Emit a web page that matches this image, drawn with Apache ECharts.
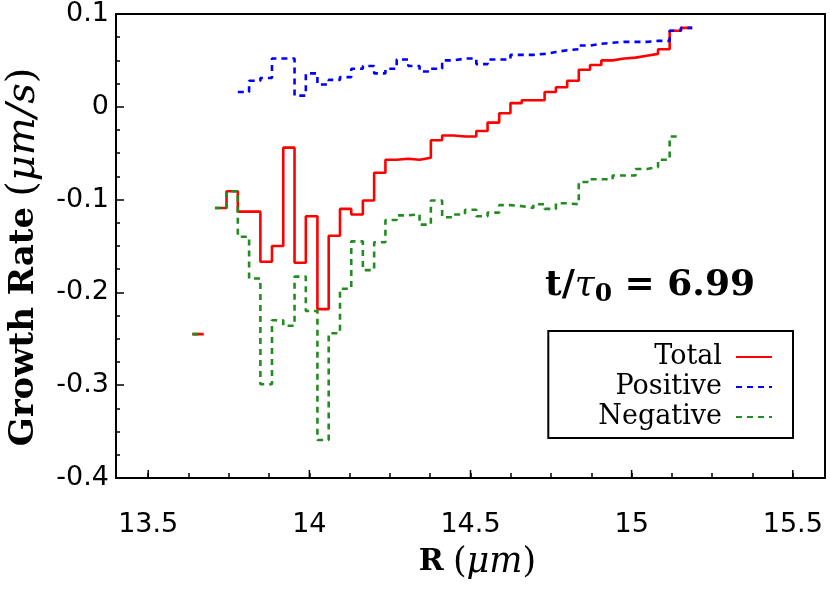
<!DOCTYPE html>
<html>
<head>
<meta charset="utf-8">
<script src="https://cdn.jsdelivr.net/npm/echarts@6.0.0/dist/echarts.min.js"></script>
<style>
  html, body { margin: 0; padding: 0; background: #fff; }
  #chart { width: 830px; height: 594px; }
</style>
</head>
<body>
<div id="chart"></div>
<script>
// bin edges along R (um), 44 bins
const rEdges = [
  13.637, 13.672, 13.707, 13.743, 13.778, 13.813, 13.848, 13.884, 13.919, 13.954,
  13.989, 14.025, 14.060, 14.095, 14.130, 14.166, 14.201, 14.236, 14.271, 14.307,
  14.342, 14.377, 14.412, 14.448, 14.483, 14.518, 14.553, 14.589, 14.624, 14.659,
  14.695, 14.730, 14.765, 14.800, 14.836, 14.871, 14.906, 14.941, 14.977, 15.012,
  15.047, 15.082, 15.118, 15.153, 15.188
];

// growth rate per bin (um/s), null = no data
const totalRate = [
  -0.245, null, -0.109, -0.091, -0.113, -0.113, -0.167, -0.150, -0.044, -0.168,
  -0.118, -0.218, -0.139, -0.110, -0.116, -0.101, -0.071, -0.057, -0.056, -0.057,
  -0.055, -0.036, -0.031, -0.032, -0.032, -0.026, -0.017, -0.007, 0.004, 0.007,
  0.007, 0.016, 0.021, 0.028, 0.040, 0.045, 0.050, 0.052, 0.053, 0.055,
  0.057, 0.062, 0.082, 0.085
];

const positiveRate = [
  null, null, null, null, 0.016, 0.028, 0.031, 0.052, 0.052, 0.012,
  0.036, 0.024, 0.029, 0.032, 0.041, 0.044, 0.036, 0.041, 0.051, 0.044,
  0.038, 0.041, 0.050, 0.052, 0.052, 0.046, 0.051, 0.051, 0.056, 0.056,
  0.057, 0.059, 0.061, 0.062, 0.066, 0.068, 0.069, 0.070, 0.070, 0.070,
  0.071, 0.071, 0.082, 0.085
];

const negativeRate = [
  -0.245, null, -0.109, -0.091, -0.140, -0.185, -0.299, -0.230, -0.236, -0.183,
  -0.220, -0.359, -0.244, -0.196, -0.145, -0.176, -0.146, -0.122, -0.117, -0.116,
  -0.127, -0.101, -0.119, -0.116, -0.111, -0.118, -0.114, -0.106, -0.107, -0.109,
  -0.105, -0.110, -0.104, -0.105, -0.081, -0.078, -0.078, -0.074, -0.074, -0.067,
  -0.065, -0.057, -0.032, null
];

const xTicks = [13.5, 14, 14.5, 15, 15.5];
const xMinorTicks = [13.625, 13.75, 13.875, 14.125, 14.25, 14.375, 14.625, 14.75, 14.875, 15.125, 15.25, 15.375];
const yMin = -0.4;
const seriesNames = ['Total', 'Positive', 'Negative'];

// turn per-bin values into a histogram-style step path
function stepPath(values) {
  const pts = [];
  values.forEach((v, i) => {
    if (v === null) {
      pts.push([rEdges[i], null]);
    } else {
      pts.push([rEdges[i], v]);
      pts.push([rEdges[i + 1], v]);
    }
  });
  return pts;
}

const chart = echarts.init(document.getElementById('chart'));

const serif = 'DejaVu Serif';
const sans = 'DejaVu Sans';

const labelText = {
  type: 'text',
  left: 545,
  top: 268,
  z: 50,
  style: {
    text: '{a|t/}{g|τ}{s|0}{a| = 6.99}',
    rich: {
      a: { fontFamily: serif, fontWeight: 'bold', fontSize: 36, lineHeight: 36, padding: [0, 0, 3, 0], verticalAlign: 'bottom', fill: '#000' },
      g: { fontFamily: serif, fontStyle: 'italic', fontSize: 36, lineHeight: 36, padding: [0, 0, 3, 0], verticalAlign: 'bottom', fill: '#000' },
      s: { fontFamily: serif, fontWeight: 'bold', fontSize: 25, lineHeight: 25, verticalAlign: 'bottom', fill: '#000' }
    }
  }
};

const option = {
  animation: false,
  backgroundColor: '#fff',
  grid: {
    left: 116,
    right: 5,
    top: 14,
    bottom: 116,
    outerBoundsMode: 'none',
    show: true,
    borderColor: '#000',
    borderWidth: 2
  },
  legend: {
    data: seriesNames,
    orient: 'vertical',
    align: 'right',
    right: 37,
    top: 331,
    padding: [11, 20, 6, 50],
    itemGap: 0,
    itemWidth: 36,
    itemHeight: 4,
    borderColor: '#000',
    borderWidth: 2,
    backgroundColor: '#fff',
    itemStyle: { opacity: 0 },
    textStyle: {
      fontFamily: serif,
      fontSize: 27,
      lineHeight: 30,
      color: '#000',
      padding: [0, 9, 0, 0]
    }
  },
  xAxis: {
    type: 'value',
    min: 13.4,
    max: 15.6,
    name: '{b|R} {r|(}{i|μm}{r|)}',
    nameLocation: 'middle',
    nameGap: 67,
    nameTextStyle: {
      fontSize: 33,
      padding: [0, 0, 0, 14],
      rich: {
        b: { fontFamily: serif, fontWeight: 'bold', fontSize: 30, color: '#000' },
        r: { fontFamily: serif, fontSize: 35, color: '#000' },
        i: { fontFamily: serif, fontStyle: 'italic', fontSize: 35, color: '#000' }
      }
    },
    axisLine: { show: true, onZero: false, lineStyle: { color: '#000', width: 2 } },
    // all ticks short here; the major ones are lengthened below
    axisTick: {
      show: true,
      inside: true,
      length: 5,
      customValues: xTicks.concat(xMinorTicks),
      lineStyle: { color: '#000', width: 1.5 }
    },
    axisLabel: {
      customValues: xTicks,
      fontFamily: sans,
      fontSize: 27,
      color: '#000',
      margin: 33
    },
    splitLine: { show: false }
  },
  yAxis: {
    type: 'value',
    min: yMin,
    max: 0.1,
    interval: 0.1,
    name: '{b|Growth Rate} {r|(}{i|μm/s}{r|)}',
    nameLocation: 'middle',
    nameRotate: 90,
    nameGap: 72,
    nameTextStyle: {
      fontSize: 36,
      padding: [0, 22, 0, 0],
      rich: {
        b: { fontFamily: serif, fontWeight: 'bold', fontSize: 34, color: '#000' },
        r: { fontFamily: serif, fontSize: 40, color: '#000' },
        i: { fontFamily: serif, fontStyle: 'italic', fontSize: 40, color: '#000' }
      }
    },
    axisLine: { show: true, onZero: false, lineStyle: { color: '#000', width: 2 } },
    axisTick: { show: true, inside: true, length: 8, lineStyle: { color: '#000', width: 1.5 } },
    minorTick: { show: true, splitNumber: 4, length: 4, lineStyle: { color: '#000', width: 1.5 } },
    axisLabel: {
      fontFamily: sans,
      fontSize: 27,
      color: '#000',
      margin: 7,
      formatter: v => String(Math.round(v * 10) / 10)
    },
    splitLine: { show: false }
  },
  graphic: [labelText],
  series: [
    {
      name: 'Total',
      type: 'line',
      data: stepPath(totalRate),
      symbol: 'none',
      connectNulls: false,
      color: '#ff0000',
      lineStyle: { color: '#ff0000', width: 2.6 }
    },
    {
      name: 'Positive',
      type: 'line',
      data: stepPath(positiveRate),
      symbol: 'none',
      connectNulls: false,
      color: '#0000ff',
      lineStyle: { color: '#0000ff', width: 2.6, type: [6, 5] }
    },
    {
      name: 'Negative',
      type: 'line',
      data: stepPath(negativeRate),
      symbol: 'none',
      connectNulls: false,
      color: '#228b22',
      lineStyle: { color: '#228b22', width: 2.6, type: [6, 5] }
    }
  ]
};

chart.setOption(option);

// longer major ticks on the bottom axis, placed through the chart's own scale
const majorTickEls = xTicks.map(v => {
  const p = chart.convertToPixel({ gridIndex: 0 }, [v, yMin]);
  return {
    type: 'line',
    z: 50,
    shape: { x1: p[0], y1: p[1] - 1, x2: p[0], y2: p[1] - 8 },
    style: { stroke: '#000', lineWidth: 1.5 }
  };
});
chart.setOption({ graphic: [labelText].concat(majorTickEls) });
</script>
</body>
</html>
